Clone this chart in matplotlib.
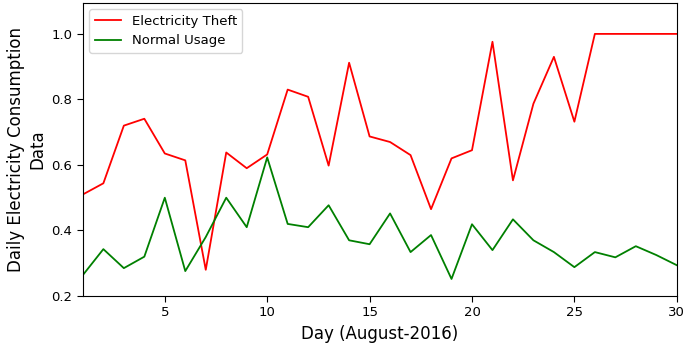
import numpy as np
import matplotlib
matplotlib.use('Agg')
import matplotlib.pyplot as plt

# daily values
days = list(range(1, 31))
theft = [0.51, 0.544, 0.72, 0.741, 0.635, 0.614, 0.28, 0.638, 0.59, 0.632,
         0.83, 0.808, 0.598, 0.912, 0.687, 0.67, 0.63, 0.465, 0.62, 0.645,
         0.976, 0.553, 0.787, 0.93, 0.732, 1.0, 1.0, 1.0, 1.0, 1.0]
normal = [0.264, 0.343, 0.285, 0.32, 0.5, 0.276, 0.38, 0.5, 0.41, 0.623,
          0.42, 0.41, 0.477, 0.37, 0.358, 0.452, 0.334, 0.386, 0.252, 0.419,
          0.34, 0.434, 0.37, 0.334, 0.288, 0.334, 0.318, 0.352, 0.325, 0.294]

fig = plt.figure(figsize=(6.85, 3.47), dpi=100)
ax = fig.add_axes([0.121, 0.147, 0.867, 0.845])

ax.plot(days, theft, color='red', linewidth=1.3, label='Electricity Theft')
ax.plot(days, normal, color='green', linewidth=1.3, label='Normal Usage')

ax.set_xlim(1, 30)
ax.set_ylim(0.2, 1.095)
ax.set_xticks([5, 10, 15, 20, 25, 30])
ax.set_yticks([0.2, 0.4, 0.6, 0.8, 1.0])
ax.tick_params(labelsize=9.5, length=4)

ax.set_xlabel('Day (August-2016)', fontsize=12)
ax.set_ylabel('Daily Electricity Consumption\nData', fontsize=12)

ax.legend(loc='upper left', fontsize=9.5)

fig.savefig('out.png', dpi=100)
